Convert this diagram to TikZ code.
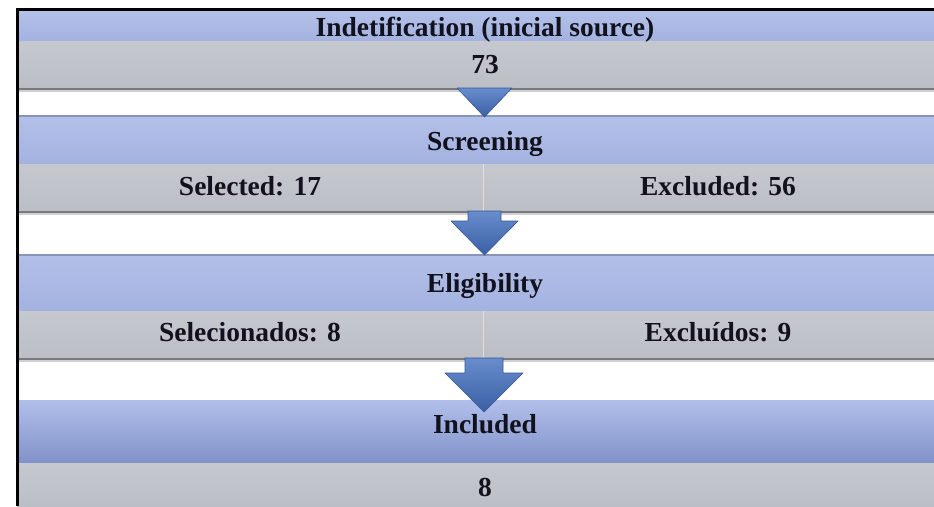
\documentclass[tikz,border=0pt]{standalone}
\usepackage{fontspec}
\setmainfont{Liberation Serif}
\definecolor{bluetop}{RGB}{178,192,232}
\definecolor{bluebot}{RGB}{164,178,224}
\definecolor{blueline}{RGB}{136,148,184}
\definecolor{graytop}{RGB}{198,200,207}
\definecolor{graybot}{RGB}{188,190,198}
\definecolor{shadowc}{RGB}{120,122,128}
\definecolor{arrtop}{RGB}{104,140,204}
\definecolor{arrbot}{RGB}{58,96,164}
\definecolor{arrline}{RGB}{52,86,150}
\definecolor{inclhi}{RGB}{236,242,252}
\definecolor{inclmid}{RGB}{180,194,236}
\definecolor{inclbot}{RGB}{104,122,184}
\definecolor{txtc}{RGB}{18,18,30}
\pgfdeclareverticalshading{inclshade}{100bp}{color(0bp)=(inclbot); color(15bp)=(inclbot!80!inclmid); color(78bp)=(inclmid); color(90bp)=(inclmid); color(95bp)=(inclhi); color(100bp)=(inclhi)}
\begin{document}
\begin{tikzpicture}[x=1pt,y=-1pt,
  lbl/.style={font=\bfseries\fontsize{27.5}{31}\selectfont, text=txtc, inner sep=0pt, anchor=base},
  band/.style={rectangle, inner sep=0pt, draw=none, anchor=north west},
  blueband/.style={band, top color=bluetop, bottom color=bluebot},
  grayband/.style={band, top color=graytop, bottom color=graybot},
  barrow/.style={top color=arrtop, bottom color=arrbot, draw=arrline, line width=0.6pt, line join=round}
]
\useasboundingbox (0,0) rectangle (934,506);
\fill[white] (0,0) rectangle (934,506);
% bands
\node[blueband, minimum width=936pt, minimum height=30pt] (b1) at (17,11) {};
\node[grayband, minimum width=936pt, minimum height=47pt] (g1) at (17,41) {};
\node[blueband, minimum width=936pt, minimum height=48pt] (b2) at (17,116) {};
\node[grayband, minimum width=466pt, minimum height=47pt] (g2l) at (17,164) {};
\node[grayband, minimum width=470pt, minimum height=47pt] (g2r) at (483,164) {};
\node[blueband, minimum width=936pt, minimum height=56pt] (b3) at (17,255) {};
\node[grayband, minimum width=466pt, minimum height=47pt] (g3l) at (17,311) {};
\node[grayband, minimum width=470pt, minimum height=47pt] (g3r) at (483,311) {};
\node[band, shading=inclshade, minimum width=936pt, minimum height=63pt] (b4) at (17,400) {};
\node[grayband, minimum width=936pt, minimum height=43pt] (g4) at (17,463) {};
% edge lines and shadows
\foreach \n in {b2,b3}{\draw[blueline, line width=1.2pt] (\n.north west) -- (\n.north east);}
\foreach \a/\b in {g1/g1,g2l/g2r,g3l/g3r}{
  \draw[shadowc, line width=2pt] ([yshift=-1pt]\a.south west) -- ([yshift=-1pt]\b.south east);
  \draw[shadowc!35, line width=2pt] ([yshift=-3pt]\a.south west) -- ([yshift=-3pt]\b.south east);
}
\foreach \a in {g2l,g3l}{\draw[white!75!gray, line width=1pt] (\a.north east) -- (\a.south east);}
% arrows
\draw[barrow] (457,88) -- (512,88) -- (484.5,117) -- cycle;
\draw[barrow] (468,211) -- (501,211) -- (501,221) -- (518,221) -- (484.5,255) -- (451,221) -- (468,221) -- cycle;
\draw[barrow] (465,358) -- (503,358) -- (503,373) -- (523,373) -- (484,412) -- (445,373) -- (465,373) -- cycle;
% texts
\node[lbl] (t1) at (485,36) {Indetification (inicial source)};
\node[lbl] (t2) at (485,73) {73};
\node[lbl] (t3) at (485,150) {Screening};
\node[lbl] (t4) at (250,195) {Selected: 17};
\node[lbl] (t5) at (718,195) {Excluded: 56};
\node[lbl] (t6) at (485,292) {Eligibility};
\node[lbl] (t7) at (250,341) {Selecionados: 8};
\node[lbl] (t8) at (718,341) {Excluídos: 9};
\node[lbl] (t9) at (485,433) {Included};
\node[lbl] (t10) at (485,496) {8};
% frame
\draw[black, line width=3pt] (17,506) -- (17,9) -- (934,9);
\end{tikzpicture}
\end{document}
